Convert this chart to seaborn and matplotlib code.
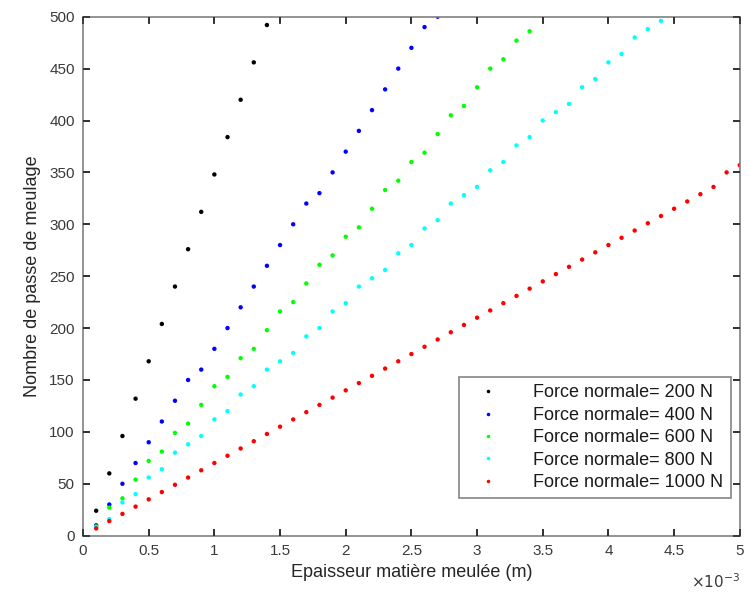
import pandas as pd
import matplotlib
matplotlib.use("Agg")
import matplotlib.pyplot as plt
import matplotlib.transforms as mtransforms
from matplotlib.ticker import FuncFormatter
import seaborn as sns

# Epaisseur (x 1e-3 m)
x_mm = [0.1, 0.2, 0.3, 0.4, 0.5, 0.6, 0.7, 0.8, 0.9, 1.0,
        1.1, 1.2, 1.3, 1.4, 1.5, 1.6, 1.7, 1.8, 1.9, 2.0,
        2.1, 2.2, 2.3, 2.4, 2.5, 2.6, 2.7, 2.8, 2.9, 3.0,
        3.1, 3.2, 3.3, 3.4, 3.5, 3.6, 3.7, 3.8, 3.9, 4.0,
        4.1, 4.2, 4.3, 4.4, 4.5, 4.6, 4.7, 4.8, 4.9, 5.0]

passes_200 = [24, 60, 96, 132, 168, 204, 240, 276, 312, 348, 384, 420, 456, 492]
passes_400 = [10, 30, 50, 70, 90, 110, 130, 150, 160, 180, 200, 220, 240, 260,
              280, 300, 320, 330, 350, 370, 390, 410, 430, 450, 470, 490, 500]
passes_600 = [9, 27, 36, 54, 72, 81, 99, 108, 126, 144, 153, 171, 180, 198, 216,
              225, 243, 261, 270, 288, 297, 315, 333, 342, 360, 369, 387, 405,
              414, 432, 450, 459, 477, 486]
passes_800 = [8, 16, 32, 40, 56, 64, 80, 88, 96, 112, 120, 136, 144, 160, 168,
              176, 192, 200, 216, 224, 240, 248, 256, 272, 280, 296, 304, 320,
              328, 336, 352, 360, 376, 384, 400, 408, 416, 432, 440, 456, 464,
              480, 488, 496]
passes_1000 = [7, 14, 21, 28, 35, 42, 49, 56, 63, 70, 77, 84, 91, 98, 105, 112,
               119, 126, 133, 140, 147, 154, 161, 168, 175, 182, 189, 196, 203,
               210, 217, 224, 231, 238, 245, 252, 259, 266, 273, 280, 287, 294,
               301, 308, 315, 322, 329, 336, 350, 357]

x_ticks = [0, 0.5, 1, 1.5, 2, 2.5, 3, 3.5, 4, 4.5, 5]
y_ticks = [0, 50, 100, 150, 200, 250, 300, 350, 400, 450, 500]

labels = ["Force normale= 200 N", "Force normale= 400 N", "Force normale= 600 N",
          "Force normale= 800 N", "Force normale= 1000 N"]
series = [passes_200, passes_400, passes_600, passes_800, passes_1000]
colors = ["#000000", "#0000ff", "#00ff00", "#00ffff", "#ff0000"]

rows = []
for lab, ys in zip(labels, series):
    for xv, yv in zip(x_mm, ys):
        rows.append({"x": xv, "y": yv, "force": lab})
df = pd.DataFrame(rows)

sns.set_style("white", {"axes.edgecolor": "#808080"})
plt.rcParams["font.family"] = ["Liberation Sans", "DejaVu Sans"]
plt.rcParams["axes.linewidth"] = 1.2

fig = plt.figure(figsize=(7.48, 6.01), dpi=100)
ax = fig.add_axes([0.111, 0.1087, 0.878, 0.8635])

sns.scatterplot(data=df, x="x", y="y", hue="force", hue_order=labels,
                palette=colors, s=10, linewidth=0, marker="o", ax=ax)

ax.set_xlim(0, 5)
ax.set_ylim(0, 500)
ax.set_xticks(x_ticks)
ax.set_yticks(y_ticks)
ax.xaxis.set_major_formatter(FuncFormatter(lambda v, p: f"{v:g}"))
ax.set_axisbelow(False)

ax.set_xlabel("Epaisseur matière meulée (m)", fontsize=13, color="#262626", labelpad=4)
ax.set_ylabel("Nombre de passe de meulage", fontsize=13, color="#262626", labelpad=6)
ax.text(1.0, -0.07, r"$\times10^{-3}$", transform=ax.transAxes, ha="right",
        va="top", fontsize=11, color="#3a3a3a")

leg = ax.legend(loc="lower right", bbox_to_anchor=(0.986, 0.072), borderaxespad=0,
                fontsize=13, frameon=True, fancybox=False, markerscale=0.8,
                handletextpad=1.3, borderpad=0.4, labelspacing=0.3,
                handlelength=2.4)
leg.get_frame().set_edgecolor("#666666")
leg.get_frame().set_linewidth(1.2)
for t in leg.get_texts():
    t.set_color("#1a1a1a")

# matlab-like ticks, inside, on all four sides
ax.tick_params(which="major", direction="in", length=5, width=1.3, color="#333333",
               labelcolor="#3a3a3a", bottom=True, left=True, top=True, right=True,
               labelsize=11, pad=6)

# inward tick marks drawn on the frame as well (same look as the axis ticks)
tx = mtransforms.blended_transform_factory(ax.transData, ax.transAxes)
ty = mtransforms.blended_transform_factory(ax.transAxes, ax.transData)
tick_kw = dict(color="#333333", lw=1.3, clip_on=False, zorder=3)
ax.vlines(x_ticks[1:-1], 0, 0.013, transform=tx, **tick_kw)
ax.vlines(x_ticks[1:-1], 1 - 0.013, 1, transform=tx, **tick_kw)
ax.hlines(y_ticks[1:-1], 0, 0.0105, transform=ty, **tick_kw)
ax.hlines(y_ticks[1:-1], 1 - 0.0105, 1, transform=ty, **tick_kw)

fig.savefig("out.png", dpi=100)
